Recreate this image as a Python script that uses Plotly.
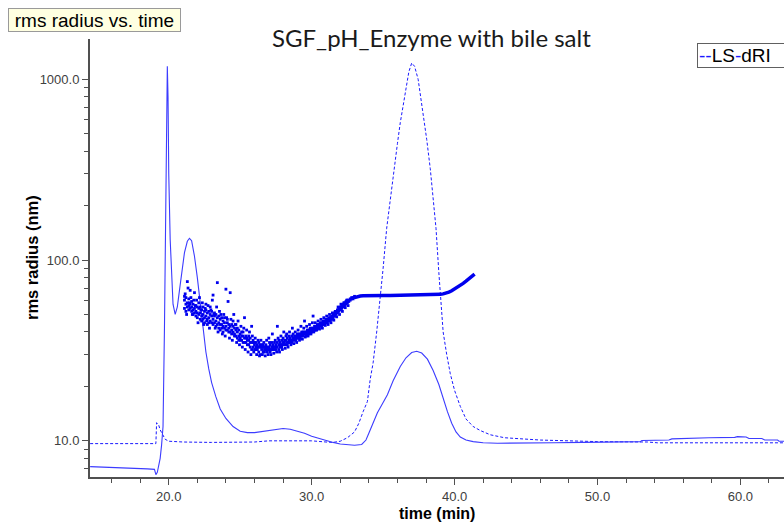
import plotly.graph_objects as go

# ---------------- data ----------------
dri_time = [14.5, 15.5, 16.5, 17.5, 18.5, 19.0, 19.1, 19.2, 19.4, 19.5, 19.6, 19.7, 19.8, 19.85, 19.9,
            19.95, 20.0, 20.1, 20.2, 20.3, 20.45, 20.6, 20.75, 20.9, 21.1, 21.3, 21.45, 21.6, 21.8,
            22.0, 22.2, 22.4, 22.6, 22.8, 23.0, 23.3, 23.6, 24.0, 24.5, 25.0, 25.5, 26.0, 26.5, 27.0,
            27.5, 28.0, 28.5, 29.0, 29.5, 30.0, 30.5, 31.0, 31.5, 32.0, 32.5, 33.0, 33.5, 33.8, 34.0,
            34.3, 34.6, 35.0, 35.3, 35.7, 36.2, 36.6, 37.0, 37.35, 37.7, 38.1, 38.5, 38.9, 39.2, 39.5,
            39.8, 40.1, 40.4, 40.8, 41.3, 42.0, 43.0, 45.0, 47.0, 49.0, 50.5, 53.0, 53.1, 55.0, 55.2,
            57.6, 57.8, 59.6, 59.8, 60.4, 60.6, 61.5, 61.7, 62.6, 62.7, 63.1]
dri_value = [7.2, 7.15, 7.15, 7.1, 7.0, 6.95, 6.5, 6.7, 8.0, 9.5, 12.0, 42, 190, 500, 1180,
             800, 300, 130, 75, 57, 50, 55, 68, 85, 110, 127, 132, 128, 105,
             80, 57, 42, 31, 25, 21, 17.5, 15, 13.3, 12.0, 11.3, 11.1, 11.1, 11.25, 11.45,
             11.6, 11.7, 11.6, 11.35, 11.0, 10.6, 10.3, 10.05, 9.8, 9.6, 9.5, 9.45, 9.55, 10.1, 11.0,
             12.5, 14.3, 16.3, 18.0, 21.5, 25.8, 28.8, 30.8, 31.3, 30.6, 28.3, 24.5, 20.5, 17.0, 14.5,
             12.5, 11.2, 10.5, 10.1, 9.9, 9.75, 9.7, 9.7, 9.75, 9.8, 9.85, 9.9, 10.05, 10.1, 10.25,
             10.3, 10.4, 10.45, 10.55, 10.5, 10.3, 10.3, 10.1, 10.1, 9.95, 9.95]

ls_time = [14.5, 19.1, 19.15, 19.3, 19.4, 19.6, 19.75, 20.0, 21.0, 23.0, 25.0, 26.0, 27.0, 29.0, 30.0,
           31.0, 31.5, 32.0, 32.5, 33.0, 33.3, 33.6, 33.9, 34.1, 34.3, 34.55, 34.8, 35.0, 35.25, 35.5,
           35.7, 36.0, 36.2, 36.5, 36.8, 37.0, 37.2, 37.45, 37.75, 38.05, 38.3, 38.55, 38.7, 38.9,
           39.05, 39.2, 39.45, 39.7, 40.0, 40.4, 40.8, 41.3, 41.8, 42.5, 43.5, 44.5, 46.0, 48.0,
           50.0, 53.5, 54.2, 63.1]
ls_value = [9.65, 9.65, 12.6, 12.2, 11.5, 10.6, 10.2, 9.95, 9.85, 9.8, 9.85, 9.85, 10.0, 10.05, 10.0,
            9.85, 9.8, 9.95, 10.4, 11.2, 12.5, 14.5, 16.5, 22, 27, 40, 60, 90, 150, 220,
            300, 440, 575, 820, 1100, 1230, 1180, 1000, 700, 465, 320, 210, 150, 85,
            58, 40, 30, 23.5, 19, 15.5, 13.2, 12.0, 11.4, 10.8, 10.4, 10.25, 10.1, 10.0,
            9.9, 9.85, 9.75, 9.75]

# rms radius, scattered region: (time, readings at that time)
rms_scatter_rows = [
    (21.1, [60, 54, 63]), (21.2, [57, 62, 52]), (21.3, [76, 58, 55]), (21.4, [56, 61, 53]),
    (21.5, [68, 57, 54]), (21.6, [55, 59, 52]), (21.7, [57, 53, 50]), (21.8, [66, 54, 51]),
    (21.9, [56, 52, 49]), (22.0, [55, 51, 48]), (22.1, [54, 50, 58]), (22.2, [51, 47, 55]),
    (22.3, [53, 49, 46]), (22.4, [50, 55, 47]), (22.5, [52, 48, 45]), (22.6, [49, 53, 57]),
    (22.7, [51, 47, 44]), (22.8, [48, 52, 45]), (22.9, [50, 46, 55]), (23.0, [49, 45, 52]),
    (23.1, [64, 47, 44]), (23.2, [49, 45, 51]), (23.3, [46, 43, 50]), (23.4, [75, 48, 44]),
    (23.5, [45, 42, 49]), (23.6, [47, 41, 44]), (23.7, [44, 48, 42]), (23.8, [46, 43, 40]),
    (23.9, [45, 42, 48]), (24.0, [69, 43, 41]), (24.1, [45, 41, 47]), (24.2, [44, 40, 42]),
    (24.3, [66, 43, 40]), (24.4, [41, 44, 39]), (24.5, [43, 40, 46]), (24.6, [39, 42, 38]),
    (24.7, [41, 38, 44]), (24.8, [40, 37, 42]), (24.9, [38, 41, 36]), (25.0, [39, 37, 36]),
    (25.1, [40, 36, 38]), (25.2, [38, 35, 40]), (25.3, [48, 37, 35]), (25.4, [38, 35, 37]),
    (25.5, [37, 34, 36]), (25.6, [36, 34, 38]), (25.7, [35, 33, 37]), (25.8, [43, 32, 35]),
    (25.9, [35, 33, 36]), (26.0, [34, 32, 35]), (26.1, [35, 33, 32]), (26.2, [34, 32, 33]),
    (26.3, [33, 31, 35]), (26.4, [30, 33, 34]), (26.5, [32, 34, 33]), (26.6, [33, 31, 34]),
    (26.7, [32, 33, 31]), (26.8, [33, 32, 34]), (26.9, [31, 33, 32]), (27.0, [33, 37, 32]),
    (27.1, [32, 34, 31]), (27.2, [33, 32, 35]), (27.3, [34, 33, 32]), (27.4, [33, 35, 32]),
    (27.5, [34, 32, 33]), (27.6, [43, 33, 35]), (27.7, [34, 32, 36]), (27.8, [35, 33, 34]),
    (27.9, [34, 36, 33]), (28.0, [35, 34, 37]), (28.1, [35, 36, 34]), (28.2, [36, 34, 38]),
    (28.3, [35, 37, 34]), (28.4, [36, 35, 38]), (28.5, [37, 35, 36]), (28.6, [36, 38, 35]),
    (28.7, [37, 36, 39]), (28.8, [37, 38, 36]), (28.9, [38, 37, 36]), (29.0, [38, 37, 39]),
    (29.1, [38, 39, 37]), (29.2, [39, 38, 37]), (29.3, [39, 38, 40]), (29.4, [39, 38, 40]),
    (29.5, [46, 39, 40]), (29.6, [40, 39, 38]), (29.7, [40, 41, 39]), (29.8, [41, 40, 39]),
    (29.9, [41, 40, 42]), (30.0, [41, 42, 40]), (30.1, [49, 42, 41]), (30.2, [42, 41, 43]),
    (30.3, [43, 42, 41]), (30.4, [43, 44, 42]), (30.5, [44, 43, 42]), (30.6, [44, 43, 45]),
    (30.7, [45, 44, 43]), (30.8, [45, 46, 44]), (30.9, [46, 45, 44]), (31.0, [46, 47, 45]),
    (31.1, [47, 46, 45]), (31.2, [47, 48, 46]), (31.3, [48, 47, 46]), (31.4, [49, 48, 47]),
    (31.5, [49, 50, 48]), (31.6, [50, 49, 51]), (31.7, [51, 50, 52]), (31.8, [52, 51, 53]),
    (31.9, [53, 52, 54]), (32.0, [54, 53, 55]), (32.1, [55, 54, 56]), (32.2, [56, 55, 57]),
    (32.3, [57, 56, 58]), (32.4, [58, 57, 59]), (32.5, [59, 58, 60]), (32.6, [60, 59]),
    (32.7, [61, 60]), (32.8, [61, 62]), (32.9, [62, 61]), (33.0, [62, 63]),
]

# further scattered rms readings between the sampling rows
rms_extra_time = [21.15, 21.25, 21.35, 21.45, 21.55, 21.65, 21.75, 21.85, 21.95, 22.05, 22.15, 22.25,
                  22.35, 22.45, 22.55, 22.65, 22.75, 22.85, 22.95, 23.05, 23.15, 23.25, 23.35, 23.45,
                  23.55, 23.65, 23.75, 23.85, 23.95, 24.05, 24.15, 24.25, 24.35, 24.45, 24.55, 24.65,
                  24.75, 24.85, 24.95, 25.05, 25.15, 25.25, 25.35, 25.45, 25.55, 25.65, 25.75, 25.85,
                  25.95, 26.05, 26.15, 26.25, 26.35, 26.45, 26.55, 26.65, 26.75, 26.85, 26.95, 27.05,
                  27.15, 27.25, 27.35, 27.45, 27.55, 27.65, 27.75, 27.85, 27.95, 28.05, 28.15, 28.25,
                  28.35, 28.45, 28.55, 28.65, 28.75, 28.85, 28.95, 29.05, 29.15, 29.25, 29.35, 29.45,
                  29.55, 29.65, 29.75, 29.85, 29.95, 30.05, 30.15, 30.25, 30.35, 30.45, 30.55, 30.65,
                  30.75, 30.85, 30.95, 31.05, 31.15, 31.25, 31.35, 31.45, 31.55, 31.65, 31.75, 31.85,
                  31.95, 32.05, 32.15, 32.25, 32.35, 32.45, 32.55]
rms_extra_value = [65, 50, 70, 58, 62, 50, 60, 56, 60, 45, 62, 53,
                   58, 44, 54, 46, 56, 42, 53, 60, 50, 42, 55, 40,
                   52, 50, 39, 50, 38, 48, 59, 37, 47, 36, 50, 44,
                   35, 46, 34, 43, 33, 42, 32, 41, 31, 40, 30, 38,
                   31, 37, 30, 36, 29.5, 36, 30, 35, 29.5, 36, 30, 35,
                   30, 39, 30.5, 36, 31, 37, 31, 38, 32, 40, 32.5, 39,
                   33, 40, 34, 42, 34.5, 40, 35, 41, 36, 43, 36.5, 42,
                   37.5, 43, 38, 44, 39, 45, 40, 45, 41, 46, 41.5, 47,
                   42, 48, 43.5, 49, 44, 50, 45, 51, 46.5, 52, 48.5, 55,
                   50, 57, 52, 58, 54.5, 60, 56]

# rms radius, tight plateau region
rms_plateau_time = [33.0, 33.2, 33.4, 33.6, 33.8, 34.0, 34.5, 35.0, 35.5, 36.0, 36.5, 37.0, 37.5,
                    38.0, 38.5, 39.0, 39.2, 39.4, 39.6, 39.8, 40.0, 40.2, 40.4, 40.6, 40.8, 41.0,
                    41.2, 41.4]
rms_plateau_value = [62.0, 62.8, 63.3, 63.5, 63.6, 63.7, 63.7, 63.6, 63.7, 63.8, 63.8, 63.7, 63.8,
                     64.0, 64.2, 64.6, 65.0, 65.6, 66.5, 67.6, 69.0, 70.6, 72.4, 74.3, 76.4, 78.6,
                     81.0, 83.5]

x_tick_vals = [20, 30, 40, 50, 60]
x_tick_text = ["20.0", "30.0", "40.0", "50.0", "60.0"]
x_minor_vals = [16, 18, 22, 24, 26, 28, 32, 34, 36, 38, 42, 44, 46, 48, 52, 54, 56, 58, 62]
y_tick_vals = [10, 100, 1000]
y_tick_text = ["10.0", "100.0", "1000.0"]
y_minor_vals = [7, 8, 9, 20, 30, 40, 50, 60, 70, 80, 90, 200, 300, 400, 500, 600, 700, 800, 900]

# ---------------- figure ----------------
W, H = 784, 522
L, R, T, B = 90, 0, 39, 45
PW, PH = W - L - R, H - T - B


def px(xp):
    return (xp - L) / PW


def py(yp):
    return (H - B - yp) / PH


rms_t, rms_v = [], []
for t, vals in rms_scatter_rows:
    for v in vals:
        rms_t.append(t)
        rms_v.append(v)
rms_t += rms_extra_time
rms_v += rms_extra_value

fig = go.Figure()
fig.add_trace(go.Scatter(x=ls_time, y=ls_value, mode="lines", name="LS",
                         line=dict(color="#1a1aff", width=1, dash="3px,2px")))
fig.add_trace(go.Scatter(x=dri_time, y=dri_value, mode="lines", name="dRI",
                         line=dict(color="#3c3cff", width=1.1)))
fig.add_trace(go.Scatter(x=rms_t, y=rms_v, mode="markers", name="rms radius",
                         marker=dict(color="#0000ee", size=2.8, symbol="square", line=dict(width=0))))
fig.add_trace(go.Scatter(x=rms_plateau_time, y=rms_plateau_value, mode="lines", name="rms radius plateau",
                         line=dict(color="#0000ee", width=3.5)))

tick_font = dict(family="Liberation Sans, Arial", size=13, color="#404040")
fig.update_xaxes(range=[14.49, 63.05], showline=True, linecolor="#505050", linewidth=2,
                 tickmode="array", tickvals=x_tick_vals, ticktext=x_tick_text,
                 ticks="outside", ticklen=6, tickcolor="#505050", tickwidth=1,
                 tickfont=tick_font, showgrid=False, zeroline=False,
                 minor=dict(tickmode="array", tickvals=x_minor_vals, ticks="outside",
                            ticklen=4, tickcolor="#505050", tickwidth=1, showgrid=False))
fig.update_yaxes(type="log", range=[0.7999, 3.2228], showline=True, linecolor="#505050", linewidth=2,
                 tickmode="array", tickvals=y_tick_vals, ticktext=y_tick_text,
                 ticks="outside", ticklen=6, tickcolor="#505050", tickwidth=1,
                 tickfont=tick_font, showgrid=False, zeroline=False,
                 minor=dict(tickmode="array", tickvals=y_minor_vals, ticks="outside",
                            ticklen=4, tickcolor="#505050", tickwidth=1, showgrid=False))

annotations = [
    dict(text="SGF_pH_Enzyme with bile salt", x=px(431), y=py(37), xref="paper", yref="paper",
         xanchor="center", yanchor="middle", showarrow=False,
         font=dict(family="Lato, Open Sans", size=24, color="#1a1a1a")),
    dict(text="&nbsp;rms radius vs. time&nbsp;", x=px(8), y=py(8), xref="paper", yref="paper",
         xanchor="left", yanchor="top", showarrow=False, bgcolor="#ffffe1",
         bordercolor="#9a9a9a", borderwidth=1, borderpad=0.5,
         font=dict(family="Liberation Sans, Arial", size=19, color="#000000")),
    dict(text="<span style='color:#1a1aff'>--</span>LS<span style='color:#1a1aff'>-</span>dRI",
         x=px(697), y=py(43), xref="paper", yref="paper", xanchor="left", yanchor="top",
         showarrow=False, bgcolor="#ffffff", bordercolor="#606060", borderwidth=1, borderpad=1,
         width=110, align="left",
         font=dict(family="Liberation Sans, Arial", size=19, color="#000000")),
    dict(text="<b>rms radius (nm)</b>", x=px(32), y=py(258), xref="paper", yref="paper",
         xanchor="center", yanchor="middle", showarrow=False, textangle=-90,
         font=dict(family="Liberation Sans, Arial", size=16.5, color="#000000")),
    dict(text="<b>time (min)</b>", x=px(437), y=py(513), xref="paper", yref="paper",
         xanchor="center", yanchor="middle", showarrow=False,
         font=dict(family="Liberation Sans, Arial", size=16, color="#000000")),
]

fig.update_layout(width=W, height=H, margin=dict(l=L, r=R, t=T, b=B),
                  paper_bgcolor="white", plot_bgcolor="white", showlegend=False,
                  annotations=annotations)

fig.write_html("out.html", config={"displayModeBar": False},
               post_script="document.body.style.margin='0';document.body.style.overflow='hidden';")
